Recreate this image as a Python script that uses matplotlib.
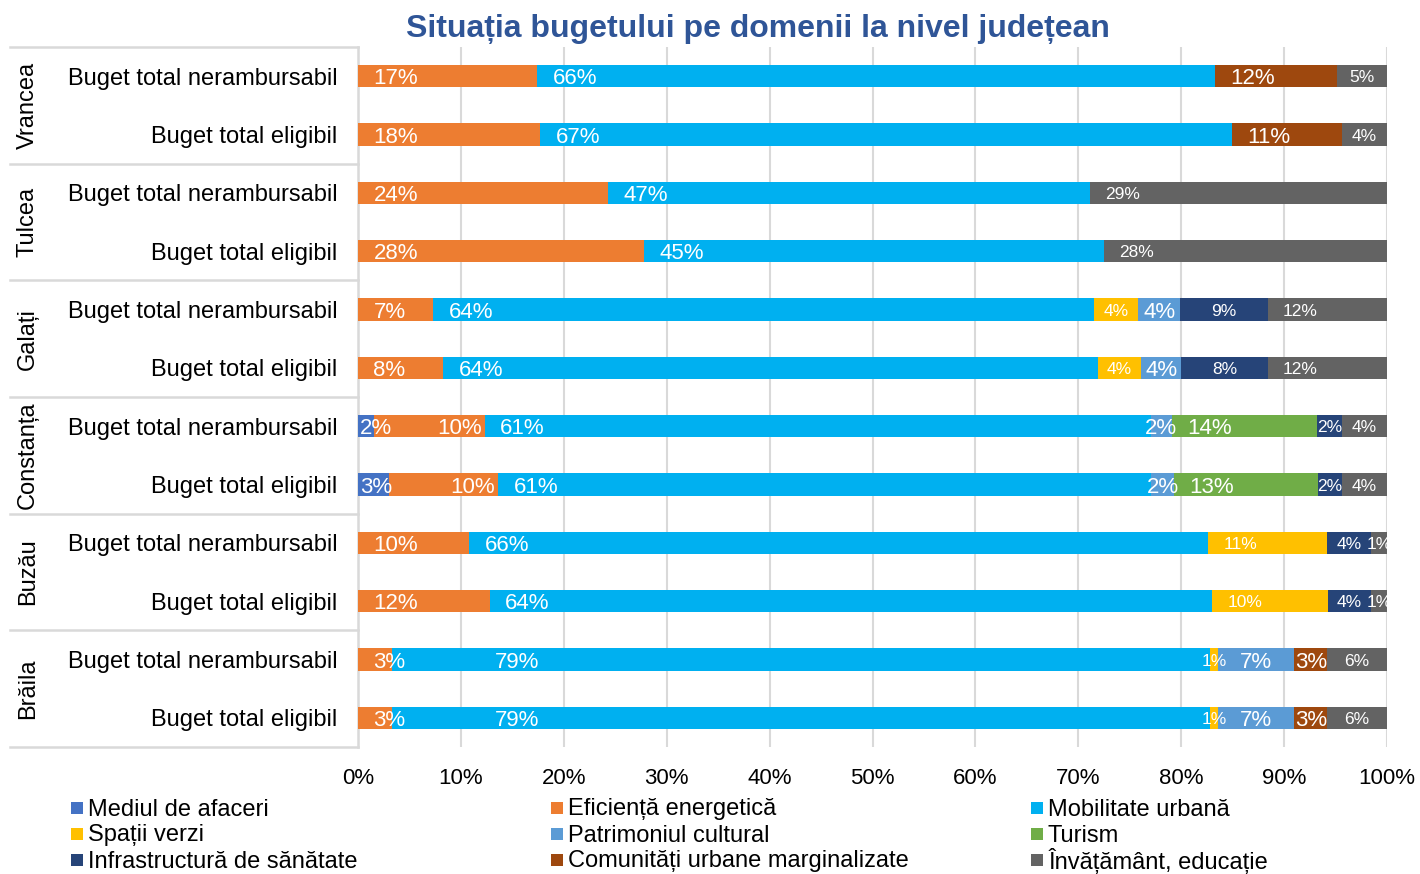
import matplotlib
matplotlib.use("Agg")
import matplotlib.pyplot as plt
import matplotlib.transforms as mtransforms
from matplotlib.patches import Rectangle
import numpy as np

plt.rcParams['font.family'] = ['Liberation Sans', 'DejaVu Sans']

# ---- data ----
counties = ["Vrancea", "Tulcea", "Galați", "Constanța", "Buzău", "Brăila"]
row_labels = ["Buget total nerambursabil", "Buget total eligibil"] * 6
series_names = ["Mediul de afaceri", "Eficiență energetică", "Mobilitate urbană",
                "Spații verzi", "Patrimoniul cultural", "Turism",
                "Infrastructură de sănătate", "Comunități urbane marginalizate",
                "Învățământ, educație"]
series_colors = ["#4472C4", "#ED7D31", "#00B0F0", "#FFC000", "#5B9BD5",
                 "#70AD47", "#264478", "#9E480E", "#636363"]

# bar widths (share of each bar, %), rows top to bottom
mediul      = [0, 0, 0, 0, 0, 0, 1.6, 3.0, 0, 0, 0, 0]
eficienta   = [17.4, 17.7, 24.3, 27.8, 7.3, 8.3, 10.7, 10.6, 10.8, 12.8, 3.3, 3.3]
mobilitate  = [65.9, 67.2, 46.8, 44.7, 64.2, 63.6, 64.7, 63.5, 71.9, 70.2, 79.5, 79.5]
spatii      = [0, 0, 0, 0, 4.3, 4.2, 0, 0, 11.6, 11.3, 0.8, 0.8]
patrimoniu  = [0, 0, 0, 0, 4.1, 3.9, 2.0, 2.2, 0, 0, 7.4, 7.4]
turism      = [0, 0, 0, 0, 0, 0, 14.1, 14.0, 0, 0, 0, 0]
infra       = [0, 0, 0, 0, 8.5, 8.4, 2.4, 2.3, 4.2, 4.1, 0, 0]
comunitati  = [11.8, 10.7, 0, 0, 0, 0, 0, 0, 0, 0, 3.2, 3.2]
invatamant  = [4.9, 4.4, 28.9, 27.5, 11.6, 11.6, 4.4, 4.4, 1.6, 1.6, 5.8, 5.8]

# data labels shown on the bars (%)
mediul_lbl     = [0, 0, 0, 0, 0, 0, 2, 3, 0, 0, 0, 0]
eficienta_lbl  = [17, 18, 24, 28, 7, 8, 10, 10, 10, 12, 3, 3]
mobilitate_lbl = [66, 67, 47, 45, 64, 64, 61, 61, 66, 64, 79, 79]
spatii_lbl     = [0, 0, 0, 0, 4, 4, 0, 0, 11, 10, 1, 1]
patrimoniu_lbl = [0, 0, 0, 0, 4, 4, 2, 2, 0, 0, 7, 7]
turism_lbl     = [0, 0, 0, 0, 0, 0, 14, 13, 0, 0, 0, 0]
infra_lbl      = [0, 0, 0, 0, 9, 8, 2, 2, 4, 4, 0, 0]
comunitati_lbl = [12, 11, 0, 0, 0, 0, 0, 0, 0, 0, 3, 3]
invatamant_lbl = [5, 4, 29, 28, 12, 12, 4, 4, 1, 1, 6, 6]

xticks = [0, 10, 20, 30, 40, 50, 60, 70, 80, 90, 100]
xtick_labels = [f"{t}%" for t in xticks]
title = "Situația bugetului pe domenii la nivel județean"

values = np.array([mediul, eficienta, mobilitate, spatii, patrimoniu, turism,
                   infra, comunitati, invatamant], dtype=float)
labels = np.array([mediul_lbl, eficienta_lbl, mobilitate_lbl, spatii_lbl,
                   patrimoniu_lbl, turism_lbl, infra_lbl, comunitati_lbl,
                   invatamant_lbl])
values = values / values.sum(axis=0) * 100
label_sizes = [16, 16, 16, 12.5, 16, 16, 12.5, 16, 12.5]

# ---- figure ----
W, H = 1420, 874
fig = plt.figure(figsize=(W / 100, H / 100), dpi=100)
ax = fig.add_axes([358 / W, 1 - 747 / H, 1029 / W, 700 / H])

n = values.shape[1]
y = np.arange(n)
left = np.zeros(n)
for i in range(values.shape[0]):
    ax.barh(y, values[i], left=left, height=0.38, color=series_colors[i],
            edgecolor="none", zorder=3)
    for j in range(n):
        v = values[i, j]
        if v <= 0:
            continue
        txt = f"{labels[i, j]}%"
        kw = dict(va="center_baseline", color="white",
                  fontsize=label_sizes[i], zorder=6)
        if i == 0:
            ax.text(left[j] + 0.2, y[j], txt, ha="left", **kw)
        elif i == 1 and left[j] > 0:
            ax.text(left[j] + v - 0.3, y[j], txt, ha="right", **kw)
        elif i == 2 and values[i - 1, j] < 5:
            ax.text(left[j] + 10, y[j], txt, ha="left", **kw)
        elif v >= 9 or i == 1:
            ax.text(left[j] + 1.5, y[j], txt, ha="left", **kw)
        else:
            ax.text(left[j] + v / 2, y[j], txt, ha="center", **kw)
    left += values[i]

ax.set_xlim(0, 100)
ax.set_ylim(n - 0.5, -0.5)
ax.set_xticks(xticks)
ax.set_xticklabels(xtick_labels, fontsize=16)
ax.set_yticks(y)
ax.set_yticklabels(row_labels, fontsize=17)
ax.tick_params(axis="x", length=0, pad=15)
ax.tick_params(axis="y", length=0, pad=15)
ax.grid(axis="x", color="#D9D9D9", linewidth=1.5, zorder=0)
for s in ["top", "right", "bottom"]:
    ax.spines[s].set_visible(False)
ax.spines["left"].set_color("#D9D9D9")
ax.spines["left"].set_linewidth(1.8)
ax.spines["left"].set_zorder(2)

# group separators and county labels
trans = mtransforms.blended_transform_factory(ax.transAxes, ax.transData)
x0 = (10 - 358) / 1029
for k in range(len(counties) + 1):
    yy = -0.5 + 2 * k
    ax.plot([x0, 0], [yy, yy], color="#D9D9D9", linewidth=1.8,
            transform=trans, clip_on=False)
for k, c in enumerate(counties):
    ax.text((28 - 358) / 1029, 2 * k + 0.5, c, rotation=90, ha="center",
            va="center", fontsize=17, transform=trans)

fig.text(758 / W, 1 - 29 / H, title, ha="center", va="center",
         fontsize=23, fontweight="bold", color="#2F5597")

# legend: three columns, row-major order
col_x = [71, 551, 1031]
row_y = [807, 833, 859]
for k, name in enumerate(series_names):
    cx = col_x[k % 3]
    ry = row_y[k // 3]
    fig.patches.append(Rectangle((cx / W, 1 - (ry + 7) / H), 12 / W, 12 / H,
                                 transform=fig.transFigure,
                                 facecolor=series_colors[k], edgecolor="none"))
    fig.text((cx + 17) / W, 1 - ry / H, name, ha="left",
             va="center_baseline", fontsize=17)

fig.savefig("out.png", dpi=100)
